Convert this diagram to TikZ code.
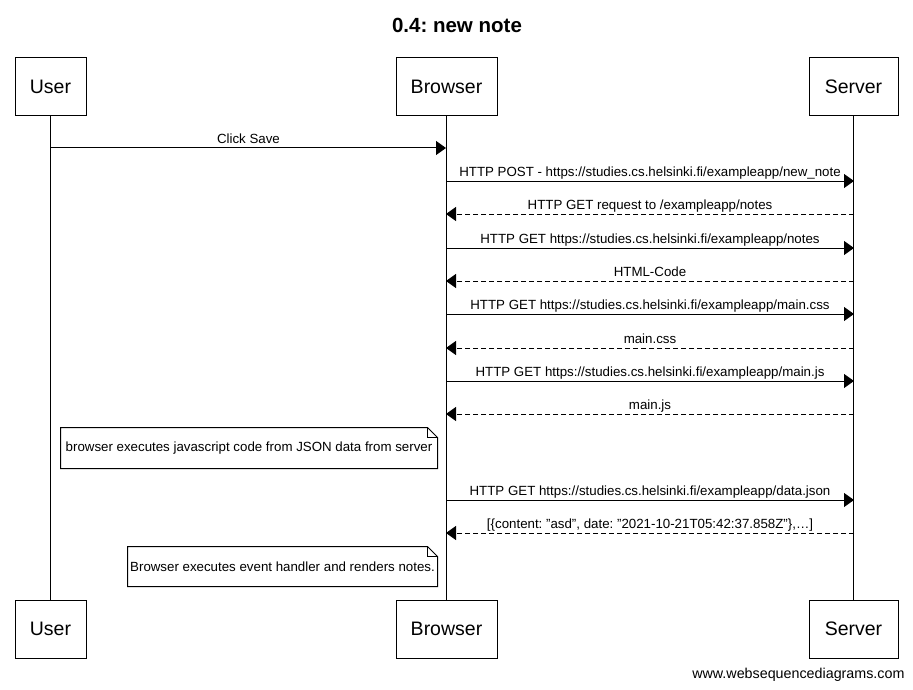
\documentclass[tikz,border=0pt]{standalone}
\usepackage{fontspec}
\setmainfont{Liberation Sans}[Ligatures=ResetAll]
\usetikzlibrary{arrows.meta}
\frenchspacing
\begin{document}
\begin{tikzpicture}[x=1pt,y=-1pt,
  line width=1pt,
  part/.style={draw,line width=1pt,minimum height=58pt,inner sep=0pt,font=\fontsize{19.5}{22}\selectfont},
  msg/.style={-{Triangle[length=10pt,width=14pt]}},
  ret/.style={msg,dash pattern=on 5pt off 3pt},
  lbl/.style={midway,anchor=base,yshift=5pt,inner sep=0pt,font=\fontsize{13.3}{15}\selectfont},
  notetext/.style={inner sep=0pt,font=\fontsize{13.3}{15}\selectfont},
  notebox/.style={line width=1pt,fill=white}]
\useasboundingbox (0,0) rectangle (913,690);
\node[font=\bfseries\fontsize{20.5}{24}\selectfont] (title) at (457,25) {0.4: new note};
% participants
\node[part,minimum width=71pt] (uT) at (50.5,87) {User};
\node[part,minimum width=101pt] (bT) at (446.5,87) {Browser};
\node[part,minimum width=89pt] (sT) at (853.5,87) {Server};
\node[part,minimum width=71pt] (uB) at (50.5,629) {User};
\node[part,minimum width=101pt] (bB) at (446.5,629) {Browser};
\node[part,minimum width=89pt] (sB) at (853.5,629) {Server};
% lifelines
\draw (uT.south) -- (uB.north);
\draw (bT.south) -- (bB.north);
\draw (sT.south) -- (sB.north);
% message end points
\foreach \n/\y in {1/148,2/181,3/214,4/248,5/281,6/314,7/348,8/381,9/414,10/500,11/533}{
  \coordinate (u\n) at (51,\y);
  \coordinate (b\n) at (446,\y);
  \coordinate (s\n) at (854,\y);
}
\draw[msg] (u1) -- node[lbl]{Click Save} (b1);
\draw[msg] (b2) -- node[lbl]{HTTP POST - https://studies.cs.helsinki.fi/exampleapp/new\_note} (s2);
\draw[ret] (s3) -- node[lbl]{HTTP GET request to /exampleapp/notes} (b3);
\draw[msg] (b4) -- node[lbl]{HTTP GET https://studies.cs.helsinki.fi/exampleapp/notes} (s4);
\draw[ret] (s5) -- node[lbl]{HTML-Code} (b5);
\draw[msg] (b6) -- node[lbl]{HTTP GET https://studies.cs.helsinki.fi/exampleapp/main.css} (s6);
\draw[ret] (s7) -- node[lbl]{main.css} (b7);
\draw[msg] (b8) -- node[lbl]{HTTP GET https://studies.cs.helsinki.fi/exampleapp/main.js} (s8);
\draw[ret] (s9) -- node[lbl]{main.js} (b9);
\draw[msg] (b10) -- node[lbl]{HTTP GET https://studies.cs.helsinki.fi/exampleapp/data.json} (s10);
\draw[ret] (s11) -- node[lbl]{[\{content: "asd", date: "2021-10-21T05:42:37.858Z"\},…]} (b11);
% notes
\node[notetext,minimum width=376pt,minimum height=40pt] (n1) at (249,448) {};
\draw[notebox] (n1.south west) -- (n1.south east) -- ([yshift=-10pt]n1.north east) -- ([xshift=-10pt]n1.north east) -- (n1.north west) -- cycle;
\draw ([xshift=-10pt]n1.north east) |- ([yshift=-10pt]n1.north east);
\node[notetext] at (n1.center) {browser executes javascript code from JSON data from server};
\node[notetext,minimum width=309pt,minimum height=39pt] (n2) at (282.5,566.5) {};
\draw[notebox] (n2.south west) -- (n2.south east) -- ([yshift=-10pt]n2.north east) -- ([xshift=-10pt]n2.north east) -- (n2.north west) -- cycle;
\draw ([xshift=-10pt]n2.north east) |- ([yshift=-10pt]n2.north east);
\node[notetext] at (n2.center) {Browser executes event handler and renders notes.};
% footer
\node[anchor=east,inner sep=0pt,font=\fontsize{14.3}{16}\selectfont] (foot) at (905,675) {www.websequencediagrams.com};
\end{tikzpicture}
\end{document}
